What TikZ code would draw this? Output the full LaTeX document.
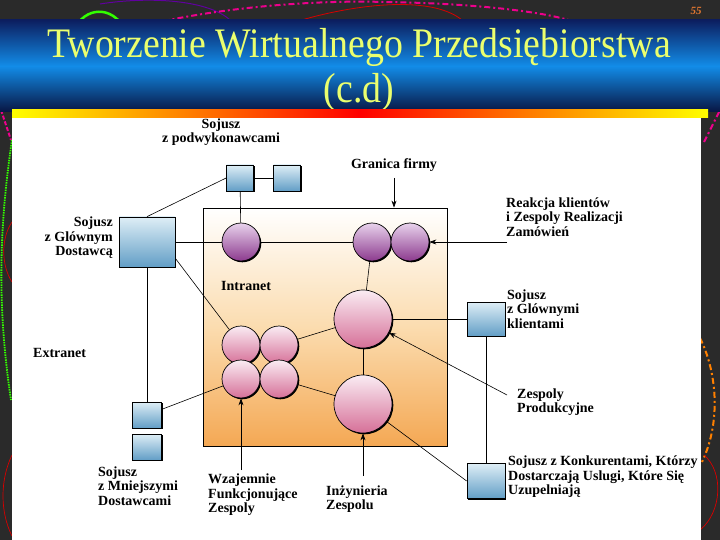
\documentclass[tikz,border=0pt]{standalone}
\usepackage{fontspec}
\setmainfont{Liberation Serif}
\usetikzlibrary{positioning,shadows,arrows.meta}

\definecolor{slidebg}{RGB}{42,42,42}
\definecolor{titleyellow}{RGB}{235,255,110}
\definecolor{barnavy}{RGB}{12,30,95}
\definecolor{barblue}{RGB}{18,140,232}
\definecolor{sqtop}{RGB}{222,238,246}
\definecolor{sqbot}{RGB}{98,158,198}
\definecolor{vitop}{RGB}{232,210,236}
\definecolor{vibot}{RGB}{140,58,142}
\definecolor{pktop}{RGB}{250,236,243}
\definecolor{pkbot}{RGB}{214,112,152}
\definecolor{boxmid}{RGB}{251,220,175}
\definecolor{boxbot}{RGB}{244,168,84}
\definecolor{pgorange}{RGB}{228,120,48}

\begin{document}
\begin{tikzpicture}[x=1pt,y=-1pt,>={Stealth[length=7pt,width=5pt]},node distance=38pt,
    every edge/.style={draw,line width=0.6pt},
    lbl/.style={font=\bfseries\fontsize{14}{14.6}\selectfont,inner sep=0pt,align=left},
    sq node/.style={draw,line width=0.7pt,top color=sqtop,bottom color=sqbot,
        drop shadow={shadow xshift=1.3pt,shadow yshift=-1.3pt,fill=black,opacity=1},inner sep=0pt},
    vi node/.style={circle,draw,line width=0.7pt,minimum size=38pt,inner sep=0pt,top color=vitop,bottom color=vibot,
        drop shadow={shadow xshift=1.3pt,shadow yshift=-1.3pt,fill=black,opacity=1}},
    pk node/.style={circle,draw,line width=0.7pt,minimum size=38pt,inner sep=0pt,top color=pktop,bottom color=pkbot,
        drop shadow={shadow xshift=1.3pt,shadow yshift=-1.3pt,fill=black,opacity=1}},
    big node/.style={pk node,minimum size=58pt},
    title/.style={text=titleyellow,font=\fontsize{42}{42}\selectfont,anchor=base,inner sep=0pt}]

    % slide background
    \useasboundingbox (0,0) rectangle (720,540);
    \fill[slidebg] (0,0) rectangle (720,540);
    \draw[green!80!yellow,line width=2.5pt] (74,30) .. controls (85,6) and (112,6) .. (124,28);
    \draw[violet!75!blue,line width=1pt] (100,4) .. controls (150,-4) and (212,0) .. (232,22);
    \draw[magenta,line width=2pt,dash pattern=on 6pt off 3pt on 2pt off 3pt] (150,24) .. controls (230,6) and (320,0) .. (385,2) .. controls (460,3) and (540,10) .. (575,22);
    \draw[red!85!black,line width=0.8pt] (295,22) .. controls (350,5) and (430,-6) .. (462,20);
    \draw[magenta,line width=2pt,dash pattern=on 6pt off 3pt on 2pt off 3pt] (704,142) -- (720,110);
    \draw[magenta,line width=2pt,dash pattern=on 4pt off 2pt] (1,110) -- (11,140);
    \draw[green!80!yellow,line width=1.8pt,dash pattern=on 1.5pt off 1pt] (12,140) .. controls (-3,240) and (-1,320) .. (11,400);
    \draw[red!85!black,line width=0.7pt] (12,222) .. controls (1,238) and (1,265) .. (12,282);
    \draw[red!85!black,line width=0.7pt] (12,455) .. controls (0,480) and (0,512) .. (12,536);
    \draw[orange,line width=2pt,dash pattern=on 6pt off 3pt on 2pt off 3pt] (700,338) .. controls (716,370) and (722,420) .. (702,462);
    \draw[red!85!black,line width=0.7pt] (704,455) .. controls (724,472) and (722,512) .. (700,530);
    \node[font=\bfseries\itshape\fontsize{11}{11}\selectfont,text=pgorange] (pg) at (696,11) {55};

    % title bar
    \shade[top color=barnavy,bottom color=barnavy!70!black,middle color=barblue] (0,20) rectangle (720,112);
    \node[title] (t1) at (359,58) {\scalebox{0.9}[1]{Tworzenie Wirtualnego Przedsiębiorstwa}};
    \node[title] (t2) at (359,103) {\scalebox{0.9}[1]{(c.d)}};
    \shade[left color=yellow,right color=red] (12,110) rectangle (360,118);
    \shade[left color=red,right color=yellow] (360,110) rectangle (708,118);
    \fill[white] (12,118) rectangle (701,540);

    % company boundary
    \node[draw,line width=0.8pt,minimum width=244pt,minimum height=238pt,top color=white,bottom color=boxbot,middle color=boxmid,
        drop shadow={shadow xshift=1.3pt,shadow yshift=-1.3pt,fill=black,opacity=1}] (intra) at (325,327) {};

    % alliances
    \node[sq node,minimum width=27pt,minimum height=26pt] (s1) at (240,178) {};
    \node[sq node,minimum width=27pt,minimum height=26pt] (s2) at (287,178) {};
    \node[sq node,minimum width=56pt,minimum height=50pt] (dost) at (147,242) {};
    \node[sq node,minimum width=29pt,minimum height=26pt] (m1) at (147,415) {};
    \node[sq node,minimum width=29pt,minimum height=26pt] (m2) at (147,447) {};
    \node[sq node,minimum width=38pt,minimum height=34pt] (kl) at (486,319) {};
    \node[sq node,minimum width=38pt,minimum height=35pt] (kon) at (486,481) {};

    % teams
    \node[vi node] (p1) at (241,242) {};
    \node[vi node] (r1) at (372,242) {};
    \node[vi node] (r2) [right of=r1] {};
    \node[pk node] (k1) at (241,345) {};
    \node[pk node] (k2) [right of=k1] {};
    \node[pk node] (k3) at (241,379) {};
    \node[pk node] (k4) [right of=k3] {};
    \node[big node] (big1) at (363,319) {};
    \node[big node] (big2) at (363,404) {};

    \path
        (s1) edge (s2)
        (s1) edge (p1)
        (dost.north) edge (s1.west)
        (dost) edge (p1)
        (p1) edge (r1)
        (dost.-30) edge (k1)
        (dost) edge (m1)
        (m1) edge (k3)
        (r1) edge (big1)
        (k2) edge (big1)
        (k4) edge (big2)
        (big1) edge (big2)
        (big1) edge (kl)
        (kl) edge (kon)
        (big2) edge (kon.west)
        ;

    % labels
    \node[lbl,align=center] (l1) at (221,132) {Sojusz\\z podwykonawcami};
    \node[lbl,align=right,anchor=east] (l2) at (113,238) {Sojusz\\z Glównym\\Dostawcą};
    \node[lbl,anchor=west] (l3) at (221,286) {Intranet};
    \node[lbl,anchor=west] (l4) at (33,353) {Extranet};
    \node[lbl] (l5) at (394,165) {Granica firmy};
    \node[lbl,anchor=west] (l6) at (506,217) {Reakcja klientów\\i Zespoly Realizacji\\Zamówień};
    \node[lbl,anchor=west] (l7) at (507,309) {Sojusz\\z Glównymi\\klientami};
    \node[lbl,anchor=west] (l8) at (517,402) {Zespoly\\Produkcyjne};
    \node[lbl,anchor=west] (l9) at (508,477) {Sojusz z Konkurentami, Którzy\\Dostarczają Uslugi, Które Się\\Uzupelniają};
    \node[lbl,anchor=west] (l10) at (208,495) {Wzajemnie\\Funkcjonujące\\Zespoly};
    \node[lbl,anchor=west] (l11) at (326,499) {Inżynieria\\Zespolu};
    \node[lbl,anchor=west] (l12) at (98,486) {Sojusz\\z Mniejszymi\\Dostawcami};

    % pointers
    \coordinate (a1) at (394,178);
    \coordinate (a2) at (507,242);
    \coordinate (a3) at (507,395);
    \coordinate (a4) at (241,470);
    \coordinate (a5) at (363,476);
    \draw[->,line width=0.6pt] (a1) -- (a1 |- intra.north);
    \draw[->,line width=0.6pt] (a2) -- (r2);
    \draw[->,line width=0.6pt] (a3) -- (big1);
    \draw[->,line width=0.6pt] (a4) -- (k3);
    \draw[->,line width=0.6pt] (a5) -- (big2);
\end{tikzpicture}
\end{document}
